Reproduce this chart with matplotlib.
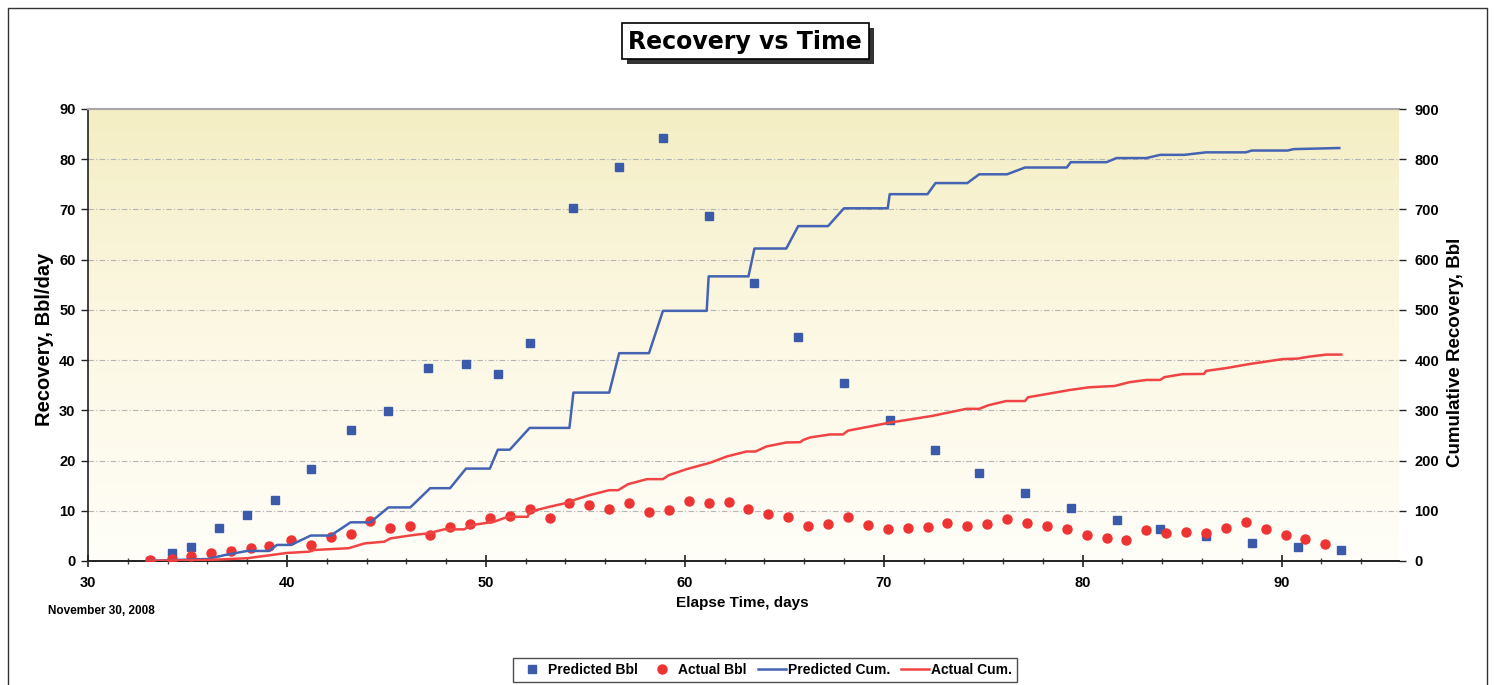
import matplotlib
matplotlib.use('Agg')
import matplotlib.pyplot as plt
import numpy as np
from matplotlib.lines import Line2D
from matplotlib.patches import Rectangle
from matplotlib.colors import LinearSegmentedColormap
from matplotlib.ticker import MultipleLocator

# ---------------- data ----------------
pred_days = [33.1, 34.2, 35.2, 36.6, 38.0, 39.4, 41.2, 43.2, 45.1, 47.1, 49.0,
             50.6, 52.2, 54.4, 56.7, 58.9, 61.2, 63.5, 65.7, 68.0, 70.3, 72.6,
             74.8, 77.1, 79.4, 81.7, 83.9, 86.2, 88.5, 90.8, 93.0]
pred_bbl = [0.0, 1.6, 2.8, 6.6, 9.2, 12.2, 18.3, 26.1, 29.9, 38.4, 39.2,
            37.3, 43.4, 70.3, 78.5, 84.3, 68.7, 55.4, 44.6, 35.5, 28.1, 22.1,
            17.5, 13.5, 10.6, 8.2, 6.4, 5.0, 3.6, 2.8, 2.2]

actual_days = [33.1, 34.2, 35.2, 36.2, 37.2, 38.2, 39.1, 40.2, 41.2, 42.2,
               43.2, 44.2, 45.2, 46.2, 47.2, 48.2, 49.2, 50.2, 51.2, 52.2,
               53.2, 54.2, 55.2, 56.2, 57.2, 58.2, 59.2, 60.2, 61.2, 62.2,
               63.2, 64.2, 65.2, 66.2, 67.2, 68.2, 69.2, 70.2, 71.2, 72.2,
               73.2, 74.2, 75.2, 76.2, 77.2, 78.2, 79.2, 80.2, 81.2, 82.2,
               83.2, 84.2, 85.2, 86.2, 87.2, 88.2, 89.2, 90.2, 91.2, 92.2]
actual_bbl = [0.2, 0.4, 0.9, 1.5, 2.0, 2.5, 3.0, 4.2, 3.2, 4.8,
              5.3, 7.9, 6.5, 7.0, 5.2, 6.8, 7.3, 8.6, 9.0, 10.3,
              8.6, 11.6, 11.2, 10.4, 11.6, 9.8, 10.2, 12.0, 11.6, 11.7,
              10.4, 9.3, 8.7, 7.0, 7.4, 8.8, 7.2, 6.4, 6.6, 6.8,
              7.5, 7.0, 7.4, 8.3, 7.6, 6.9, 6.3, 5.2, 4.5, 4.2,
              6.2, 5.6, 5.7, 5.5, 6.6, 7.7, 6.3, 5.1, 4.4, 3.4]

pred_cum_days = [33.1, 34.4, 36.0, 36.9, 38.0, 39.1, 39.5, 40.2, 41.2, 42.2,
                 43.2, 44.2, 45.1, 46.2, 47.2, 48.2, 49.0, 50.2, 50.6, 51.2,
                 52.2, 54.2, 54.4, 56.2, 56.7, 58.2, 58.9, 61.1, 61.2, 63.2,
                 63.5, 65.1, 65.7, 67.2, 68.0, 70.2, 70.3, 72.2, 72.6, 74.2,
                 74.8, 76.2, 77.1, 79.2, 79.4, 81.2, 81.7, 83.2, 83.9, 85.1,
                 86.2, 88.2, 88.5, 90.3, 90.6, 92.9]
pred_cum = [0, 2, 4, 12, 20, 20, 32, 32, 50.7, 50.7,
            77, 77, 106.7, 106.7, 145, 145, 184, 184, 221.6, 221.6,
            265, 265, 335.3, 335.3, 413.8, 413.8, 498.1, 498.1, 566.8, 566.8,
            622.2, 622.2, 666.8, 666.8, 702.3, 702.3, 730.4, 730.4, 752.5, 752.5,
            770, 770, 783.5, 783.5, 794.1, 794.1, 802.3, 802.3, 808.7, 808.7,
            813.7, 813.7, 817.3, 817.3, 820.1, 822.3]

actual_cum_days = [33.1, 36.0, 38.0, 40.0, 41.1, 41.4, 43.1, 43.9, 44.9, 45.2,
                   46.4, 47.1, 47.9, 48.9, 49.3, 50.4, 51.1, 52.1, 52.2, 53.2,
                   54.1, 54.55, 55.2, 56.2, 56.65, 57.15, 58.1, 58.9, 59.2, 60.1,
                   61.3, 62.1, 63.1, 63.55, 64.1, 65.1, 65.8, 65.95, 66.3, 67.3,
                   67.95, 68.2, 70.3, 72.45, 74.15, 74.8, 75.25, 76.15, 77.1, 77.25,
                   78.2, 79.35, 80.35, 81.6, 82.35, 83.2, 83.9, 84.1, 85.0, 86.1,
                   86.2, 87.2, 88.35, 89.2, 90.05, 90.8, 91.4, 92.25, 93.0]
actual_cum = [0.5, 2, 5.5, 16, 18.5, 22, 25.5, 35, 38.5, 45,
              52, 55, 63, 63, 71.5, 78, 88, 88, 98, 108,
              116, 123, 131, 141, 141, 153, 163, 163, 171, 183,
              196, 208, 218, 218, 228, 236, 236.5, 241, 246, 252,
              252, 259.5, 275.5, 289, 303, 303, 310, 318.5, 318.5, 326,
              332.5, 340.5, 346, 348.5, 356, 360.5, 360.5, 366, 372, 372.5,
              378.5, 384, 392, 397, 402, 403, 407, 411, 411]

left_ticks = [0, 10, 20, 30, 40, 50, 60, 70, 80, 90]
right_ticks = [0, 100, 200, 300, 400, 500, 600, 700, 800, 900]
x_ticks = [30, 40, 50, 60, 70, 80, 90]

# ---------------- styling ----------------
W, H = 1495, 685
BLUE = '#3B5BAA'
BLUE_LINE = '#4563B3'
RED = '#EE3333'
RED_LINE = '#F04444'
FONT = 'Liberation Sans'

plt.rcParams['font.family'] = [FONT, 'DejaVu Sans']
plt.rcParams['font.weight'] = 'bold'

fig = plt.figure(figsize=(W / 100, H / 100), dpi=100)
fig.patch.set_facecolor('white')

def fx(px):
    return px / W

def fy(py):
    return 1 - py / H

L, R, T, B = 88, 1399, 109, 561
ax = fig.add_axes([fx(L), fy(B), fx(R) - fx(L), fy(T) - fy(B)])

# background gradient
cmap = LinearSegmentedColormap.from_list('bg', ['#FFFEF8', '#FCF8E4', '#F4EEC4'])
grad = np.linspace(0, 1, 256).reshape(-1, 1)
ax.imshow(grad, extent=[0, 1, 0, 1], transform=ax.transAxes, cmap=cmap,
          aspect='auto', origin='lower', zorder=0, interpolation='bilinear')

ax.set_xlim(30, 95.9)
ax.set_ylim(0, 90)
ax.set_xticks(x_ticks)
ax.xaxis.set_minor_locator(MultipleLocator(2))
ax.set_yticks(left_ticks)
ax.yaxis.grid(True, color='#B5B5B5', linestyle=(0, (5, 2, 1, 2)), linewidth=0.8, zorder=0.5)
ax.set_axisbelow(True)

ax.plot(pred_days, pred_bbl, linestyle='none', marker='s', markersize=6.2,
        color=BLUE, markeredgecolor=BLUE, zorder=3, label='Predicted Bbl')
ax.plot(actual_days, actual_bbl, linestyle='none', marker='o', markersize=6.5,
        color=RED, markeredgecolor=RED, zorder=3, label='Actual Bbl')

ax2 = ax.twinx()
ax2.set_ylim(0, 900)
ax2.set_yticks(right_ticks)
ax2.plot(pred_cum_days, pred_cum, color=BLUE_LINE, linewidth=1.8, label='Predicted Cum.')
ax2.plot(actual_cum_days, actual_cum, color=RED_LINE, linewidth=1.8, label='Actual Cum.')
ax2.set_xlim(30, 95.9)

for a in (ax, ax2):
    for s in a.spines.values():
        s.set_visible(False)
ax.spines['left'].set_visible(True)
ax.spines['bottom'].set_visible(True)
ax.spines['top'].set_visible(True)
ax.spines['left'].set_color('#222222')
ax.spines['bottom'].set_color('#222222')
ax.spines['left'].set_linewidth(1.2)
ax.spines['bottom'].set_linewidth(1.4)
ax.spines['top'].set_color('#A8A8A8')
ax.spines['top'].set_linewidth(1.5)

ax.tick_params(axis='x', which='major', direction='inout', length=9, width=1.2,
               labelsize=10.5, pad=6, color='#222222')
ax.tick_params(axis='x', which='minor', direction='inout', length=5, width=1, color='#444444')
ax.tick_params(axis='y', which='major', direction='out', length=5, width=1,
               labelsize=10.5, pad=4, color='#222222')
ax2.tick_params(axis='y', which='major', direction='out', length=5, width=1,
                labelsize=10.5, pad=6, color='#222222')
for lab in ax.get_xticklabels() + ax.get_yticklabels() + ax2.get_yticklabels():
    lab.set_fontweight('bold')

# axis titles
fig.text(fx(742), fy(603), 'Elapse Time, days', ha='center', va='center',
         fontsize=11, fontweight='bold')
fig.text(fx(45), fy(339), 'Recovery, Bbl/day', ha='center', va='center',
         rotation=90, fontsize=14.5, fontweight='bold')
fig.text(fx(1456), fy(352), 'Cumulative Recovery, Bbl', ha='center', va='center',
         rotation=90, fontsize=13.5, fontweight='bold')
fig.text(fx(48), fy(611), 'November 30, 2008', ha='left', va='center',
         fontsize=8.5, fontweight='bold')

# title with shadowed box
bx0, by0, bx1, by1 = 622, 23, 869, 59
fig.add_artist(Rectangle((fx(bx0 + 5), fy(by1 + 5)), fx(bx1) - fx(bx0), fy(by0) - fy(by1),
                         transform=fig.transFigure, facecolor='#333333', edgecolor='none', zorder=5))
fig.add_artist(Rectangle((fx(bx0), fy(by1)), fx(bx1) - fx(bx0), fy(by0) - fy(by1),
                         transform=fig.transFigure, facecolor='white', edgecolor='black',
                         linewidth=1.2, zorder=6))
fig.text(fx(745), fy(42), 'Recovery vs Time', ha='center', va='center',
         fontsize=17, fontweight='bold', family=['DejaVu Sans'], zorder=7)

# figure border
fig.add_artist(Line2D([fx(8), fx(8), fx(1487), fx(1487)], [0, fy(8), fy(8), 0],
                      transform=fig.transFigure, color='#333333', linewidth=1))

# legend
handles = [ax.lines[0], ax.lines[1], ax2.lines[0], ax2.lines[1]]
leg = fig.legend(handles, [h.get_label() for h in handles], loc='center',
                 bbox_to_anchor=(fx(765), fy(670)), ncol=4, frameon=True,
                 fancybox=False, edgecolor='#222222',
                 handlelength=2.0, handletextpad=0.15, columnspacing=0.8,
                 borderpad=0.35, prop={'weight': 'bold', 'size': 10})
leg.get_frame().set_linewidth(1.0)

fig.savefig('out.png', dpi=100, facecolor='white')
